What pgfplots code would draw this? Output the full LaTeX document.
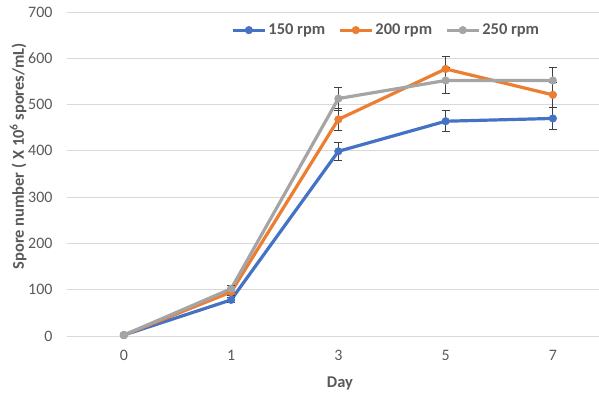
\documentclass[border=0pt]{standalone}
\usepackage{pgfplots}
\pgfplotsset{compat=1.18}
\usepackage{fontspec}
\setmainfont{Carlito}
\definecolor{cblue}{HTML}{4472C4}
\definecolor{corange}{HTML}{ED7D31}
\definecolor{cgray}{HTML}{A5A5A5}
\definecolor{txt}{HTML}{595959}
\definecolor{gridc}{HTML}{D9D9D9}
\definecolor{ebar}{HTML}{404040}
\begin{document}
\begin{tikzpicture}
\begin{axis}[
  scale only axis,
  width=532bp, height=324bp,
  xmin=-0.53, xmax=4.43,
  ymin=0, ymax=700,
  ytick={0,100,...,700},
  xtick={0,1,2,3,4},
  xticklabels={0,1,3,5,7},
  axis line style={draw=none},
  tick style={draw=none},
  xmajorgrids=false,
  ymajorgrids=true,
  grid style={draw=gridc, line width=0.9bp},
  major tick length=0pt,
  clip=false,
  /pgf/number format/assume math mode=true,
  tick label style={font=\fontsize{16}{19}\selectfont, text=txt},
  yticklabel style={anchor=east, xshift=-11bp},
  xticklabel style={anchor=center, yshift=-19bp},
  xlabel={Day},
  ylabel={Spore number ( X 10\textsuperscript{6} spores/mL)},
  label style={font=\fontsize{16.5}{19}\selectfont\bfseries, text=txt},
  xlabel style={at={(axis description cs:0.513,0)}, anchor=center, yshift=-47bp},
  ylabel style={at={(axis description cs:-0.092,0.555)}, anchor=center},
  legend style={at={(0.6,0.944)}, anchor=center, draw=none, fill=none,
    legend columns=3, font=\fontsize{16.5}{19}\selectfont\bfseries, text=txt,
    /tikz/every even column/.append style={column sep=11bp}},
  legend image code/.code={\draw[mark repeat=2,mark phase=2,#1] plot coordinates {(0bp,0bp) (16bp,0bp) (32bp,0bp)};},
  every axis plot/.append style={line width=3.2bp},
  error bars/error bar style={ebar, line width=0.8bp},
  error bars/error mark options={rotate=90, mark size=4bp, ebar, line width=0.8bp},
]
\addplot[color=cblue, mark=*, mark size=3.8bp, mark options={solid, line width=0.5bp},
  error bars/.cd, y dir=both, y explicit]
  coordinates {(0,2) +- (0,1) (1,78) +- (0,6) (2,399) +- (0,19) (3,464) +- (0,23) (4,470) +- (0,23)};
\addlegendentry{150 rpm}
\addplot[color=corange, mark=*, mark size=3.8bp, mark options={solid, line width=0.5bp},
  error bars/.cd, y dir=both, y explicit]
  coordinates {(0,2) +- (0,1) (1,95) +- (0,7) (2,468) +- (0,24) (3,577) +- (0,28) (4,521) +- (0,27)};
\addlegendentry{200 rpm}
\addplot[color=cgray, mark=*, mark size=3.8bp, mark options={solid, line width=0.5bp},
  error bars/.cd, y dir=both, y explicit]
  coordinates {(0,2) +- (0,1) (1,102) +- (0,8) (2,513) +- (0,25) (3,552) +- (0,28) (4,552) +- (0,29)};
\addlegendentry{250 rpm}
\end{axis}
\pgfresetboundingbox
\path ([shift={(-67bp,-61bp)}]current axis.south west) rectangle ([shift={(0bp,12bp)}]current axis.north east);
\end{tikzpicture}
\end{document}
